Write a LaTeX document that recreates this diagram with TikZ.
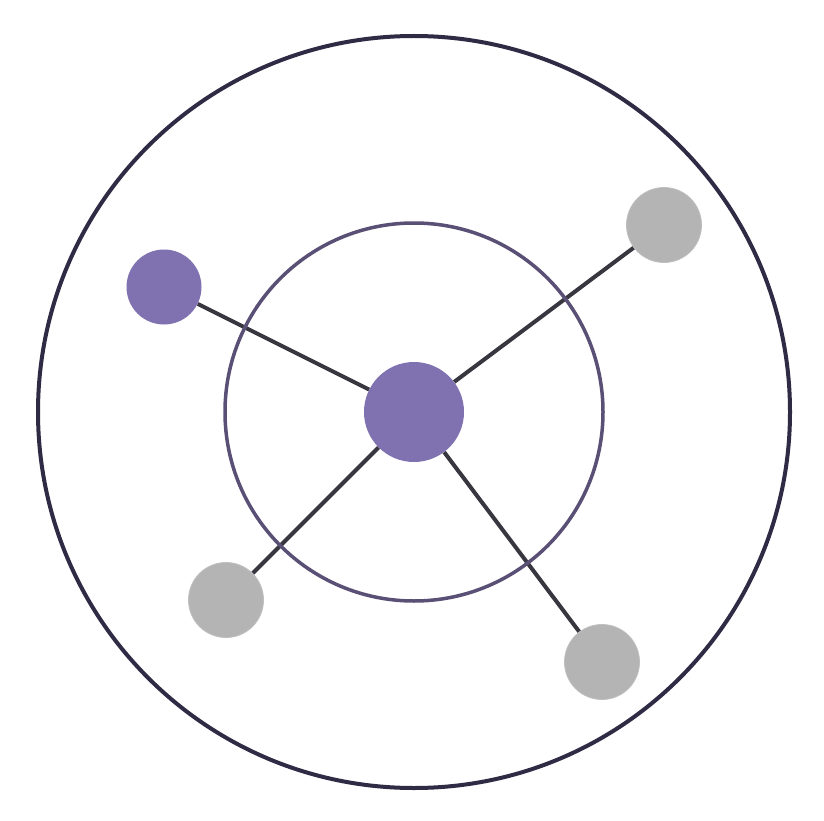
\documentclass[tikz,border=0pt]{standalone}
\usetikzlibrary{backgrounds}
\definecolor{outerc}{HTML}{2F2B45}
\definecolor{innerc}{HTML}{5A5075}
\definecolor{linkc}{HTML}{38363E}
\definecolor{purp}{HTML}{8071B0}
\definecolor{grayn}{HTML}{B4B4B4}
\tikzset{
  ringnode/.style={circle, inner sep=0pt, fill=none},
  link/.style={draw=linkc, line width=4pt},
  purpnode/.style={circle, fill=purp, draw=none, inner sep=0pt},
  graynode/.style={circle, fill=grayn, draw=grayn!85!white, line width=0.8pt, inner sep=0pt, minimum size=75pt},
}
\begin{document}
\begin{tikzpicture}[x=1pt,y=-1pt]
\useasboundingbox (0,0) rectangle (824,821);
\node[ringnode, draw=outerc, line width=4pt, minimum size=752pt] (outer) at (414,412) {};
\node[ringnode, draw=innerc, line width=3.5pt, minimum size=378pt] (inner) at (414,412) {};
\node[purpnode, minimum size=100pt] (c) at (414,412) {};
\node[purpnode, minimum size=75pt] (p) at (164,287) {};
\node[graynode] (g1) at (664,225) {};
\node[graynode] (g2) at (226,600) {};
\node[graynode] (g3) at (602,662) {};
\begin{scope}[on background layer]
\fill[white] (0,0) rectangle (824,821);
\draw[link] (c) -- (p);
\draw[link] (c) -- (g1);
\draw[link] (c) -- (g2);
\draw[link] (c) -- (g3);
\end{scope}
\end{tikzpicture}
\end{document}
